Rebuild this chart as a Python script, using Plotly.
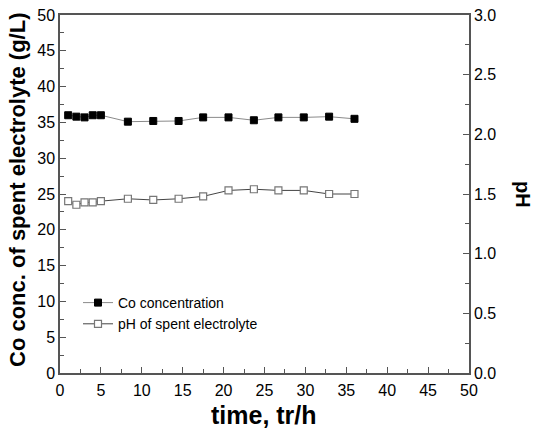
import plotly.graph_objects as go

time_co = [1, 2, 3, 4, 5, 8.3, 11.4, 14.5, 17.5, 20.6, 23.7, 26.7, 29.8, 32.9, 36.0]
co_conc = [36.0, 35.8, 35.7, 36.0, 36.0, 35.1, 35.2, 35.2, 35.7, 35.7, 35.3, 35.7, 35.7, 35.8, 35.5]
ph_vals = [1.44, 1.41, 1.43, 1.43, 1.44, 1.46, 1.45, 1.46, 1.48, 1.53, 1.54, 1.53, 1.53, 1.50, 1.50]

x_ticks = [0, 5, 10, 15, 20, 25, 30, 35, 40, 45, 50]
y_ticks = [0, 5, 10, 15, 20, 25, 30, 35, 40, 45, 50]
y2_ticks = [0.0, 0.5, 1.0, 1.5, 2.0, 2.5, 3.0]

W, H = 535, 435
L, R, T, B = 60, 66, 15, 62
PW, PH = W - L - R, H - T - B

FONT = "Liberation Sans Narrow, Arial Narrow, Liberation Sans, Arial, sans-serif"
BOLD = "Liberation Sans, Arial, sans-serif"
AX = "#555555"

fig = go.Figure()
fig.add_trace(go.Scatter(
    x=time_co, y=co_conc, name="Co concentration", mode="lines+markers",
    line=dict(color="#8a8a8a", width=1),
    marker=dict(symbol="square", size=7, color="black", line=dict(color="black", width=1)),
))
fig.add_trace(go.Scatter(
    x=time_co, y=ph_vals, name="pH of spent electrolyte", mode="lines+markers", yaxis="y2",
    line=dict(color="#444444", width=1),
    marker=dict(symbol="square", size=7, color="white", line=dict(color="#777777", width=1.2)),
))

axis_common = dict(showline=True, linecolor=AX, linewidth=1.5, ticks="inside", ticklen=6,
                   tickcolor=AX, tickwidth=1, showgrid=False, zeroline=False, automargin=False,
                   tickfont=dict(family=FONT, size=16, color="black"))

def px_x(p):
    return (p - L) / PW

def px_y(p):
    return (H - B - p) / PH

fig.update_layout(
    width=W, height=H,
    margin=dict(l=L, r=R, t=T, b=B),
    plot_bgcolor="white", paper_bgcolor="white",
    xaxis=dict(range=[0, 50], tickvals=x_ticks, mirror=True, ticklabelstandoff=2,
               minor=dict(ticks="inside", ticklen=4, dtick=2.5, tickcolor=AX),
               **axis_common),
    yaxis=dict(range=[0, 50], tickvals=y_ticks,
               minor=dict(ticks="inside", ticklen=4, dtick=2.5, tickcolor=AX),
               **axis_common),
    yaxis2=dict(range=[0, 3], tickvals=y2_ticks, tickformat=".1f", overlaying="y", side="right",
                minor=dict(ticks="inside", ticklen=4, dtick=0.25, tickcolor=AX),
                **axis_common),
    legend=dict(x=px_x(78), y=px_y(287), xanchor="left", yanchor="top", bgcolor="rgba(0,0,0,0)",
                font=dict(family=FONT, size=14, color="black"), tracegroupgap=0, itemwidth=30),
    showlegend=True,
    annotations=[
        dict(text="<b>pH</b>", textangle=90, xref="paper", yref="paper",
             x=px_x(523), y=px_y(194), xanchor="center", yanchor="middle", showarrow=False,
             borderpad=0, font=dict(family=BOLD, size=20, color="black")),
        dict(text="<b>Co conc. of spent electrolyte (g/L)</b>", textangle=-90, xref="paper", yref="paper",
             x=px_x(17), y=px_y(190), xanchor="center", yanchor="middle", showarrow=False,
             font=dict(family=BOLD, size=22, color="black")),
        dict(text="<b>time, tr/h</b>", xref="paper", yref="paper",
             x=px_x(264), y=px_y(415), xanchor="center", yanchor="middle", showarrow=False,
             font=dict(family=BOLD, size=25, color="black")),
    ],
)

fig.write_html("out.html", config={"displayModeBar": False},
               post_script="document.body.style.margin='0';document.body.style.padding='0';")
